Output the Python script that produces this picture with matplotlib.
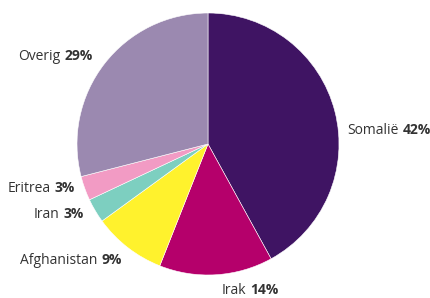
import matplotlib
matplotlib.use('Agg')
import matplotlib.pyplot as plt
from matplotlib.offsetbox import TextArea, HPacker, AnnotationBbox

# Herkomst (aandeel in procenten)
landen = ['Somalië', 'Irak', 'Afghanistan', 'Iran', 'Eritrea', 'Overig']
aandeel = [42, 14, 9, 3, 3, 29]
kleuren = ['#3f1463', '#b5006b', '#fff22d', '#7dcfc0', '#f29bc4', '#9b89b0']

# label positie (pixels, links boven) en uitlijning
label_pos = [(347, 130, 'left'), (222, 290, 'left'), (122, 260, 'right'),
             (84, 214, 'right'), (75, 189, 'right'), (93, 57, 'right')]

plt.rcParams['font.family'] = ['Open Sans', 'DejaVu Sans']

W, H = 430, 298
fig = plt.figure(figsize=(W / 100, H / 100), dpi=100)
ax = fig.add_axes([0, 0, 1, 1])
ax.set_xlim(0, W)
ax.set_ylim(0, H)
ax.set_aspect('equal')
ax.axis('off')

ax.pie(aandeel, colors=kleuren, startangle=90, counterclock=False,
       center=(208, H - 144), radius=131, frame=True,
       wedgeprops=dict(linewidth=0.4, edgecolor='white'))
ax.set_xlim(0, W)
ax.set_ylim(0, H)
ax.axis('off')

for land, pct, (x, y, ha) in zip(landen, aandeel, label_pos):
    naam = TextArea(land, textprops=dict(fontsize=10, color='#333333'))
    getal = TextArea(f'{pct}%', textprops=dict(fontsize=10, color='#333333',
                                               fontweight='bold'))
    box = HPacker(children=[naam, getal], pad=0, sep=3, align='baseline')
    bx = 0 if ha == 'left' else 1
    ab = AnnotationBbox(box, (x, H - y), xycoords='data', frameon=False,
                        box_alignment=(bx, 0.5), pad=0)
    ax.add_artist(ab)

fig.savefig('out.png', dpi=100)
